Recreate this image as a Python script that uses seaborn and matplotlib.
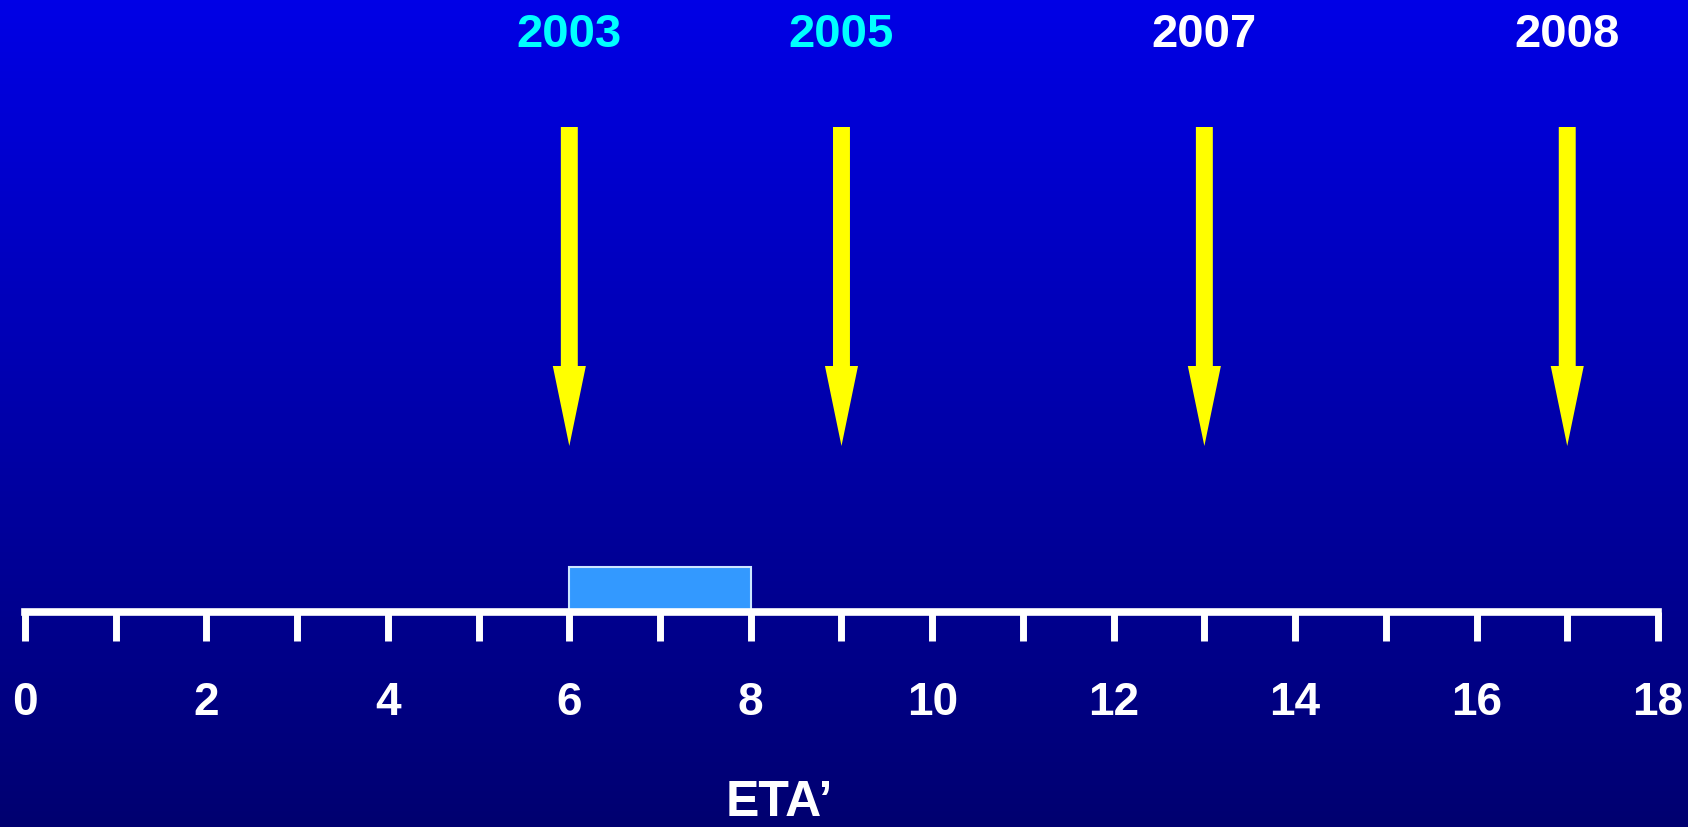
import numpy as np
import matplotlib
matplotlib.use('Agg')
import matplotlib.pyplot as plt
import seaborn as sns
from matplotlib.colors import LinearSegmentedColormap
from matplotlib.patches import FancyArrowPatch

# Data
arrow_eta = [6, 9, 13, 17]
arrow_years = ['2003', '2005', '2007', '2008']
year_colors = ['#00FFFF', '#00FFFF', 'white', 'white']
box_start, box_end = 6, 8
eta_major = list(range(0, 19, 2))
eta_minor = list(range(1, 18, 2))
axis_label = 'ETA’'

sns.set_theme(style='white')
plt.rcParams['font.family'] = ['Liberation Sans', 'DejaVu Sans']
plt.rcParams['font.weight'] = 'bold'

# layout in pixels (y measured from top)
W, H = 1688, 827
x0_px, unit_px = 25, 90.72
line_y = 612
box_top = 567
arrow_top, arrow_tip = 127, 446

fig = plt.figure(figsize=(W / 100, H / 100), dpi=100)
ax = fig.add_axes([0, 0, 1, 1])
xmin = -x0_px / unit_px
xmax = (W - x0_px) / unit_px

# gradient background
grad = np.linspace(0, 1, 256).reshape(-1, 1)
cmap = LinearSegmentedColormap.from_list('bg', ['#0000E6', '#000070'])
ax.imshow(grad, cmap=cmap, extent=[xmin, xmax, H, 0], aspect='auto', zorder=0)
ax.set_xlim(xmin, xmax)
ax.set_ylim(H, 0)

# number line
for s in ['top', 'left', 'right']:
    ax.spines[s].set_visible(False)
ax.spines['bottom'].set_position(('data', line_y))
ax.spines['bottom'].set_bounds(0, 18)
ax.spines['bottom'].set_color('white')
ax.spines['bottom'].set_linewidth(5.5)
ax.set_xticks(eta_major)
ax.set_xticks(eta_minor, minor=True)
ax.set_yticks([])
ax.tick_params(axis='x', which='both', bottom=True, direction='out',
               length=21, width=5, color='white')
ax.tick_params(axis='x', which='major', labelsize=33, labelcolor='white', pad=29)
for lbl in ax.get_xticklabels():
    lbl.set_fontweight('bold')

# box on the line
ax.bar(box_start, -(line_y - box_top), bottom=line_y, width=box_end - box_start,
       align='edge', color='#3399FF', edgecolor='#CCE6FF', linewidth=1.5, zorder=2)

# arrows and years
for x, yr, c in zip(arrow_eta, arrow_years, year_colors):
    ax.add_patch(FancyArrowPatch((x, arrow_top), (x, arrow_tip),
                                 arrowstyle='simple,head_length=57.6,head_width=23.8,tail_width=12.2',
                                 mutation_scale=1, shrinkA=0, shrinkB=0,
                                 color='#FFFF00', lw=0, zorder=3))
    ax.text(x, 47, yr, ha='center', va='baseline', fontsize=34,
            fontweight='bold', color=c)

ax.text(8.32, H - 1, axis_label, ha='center', va='bottom', fontsize=36,
        fontweight='bold', color='white')

fig.savefig('out.png', dpi=100)
